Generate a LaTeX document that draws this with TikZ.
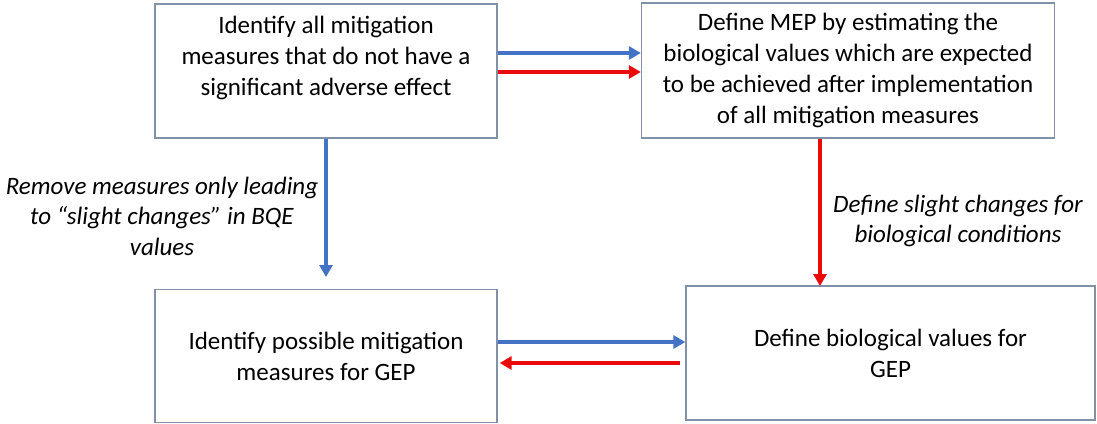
\documentclass[tikz,border=0pt]{standalone}
\usepackage{fontspec}
\setmainfont{Carlito}
\usetikzlibrary{arrows.meta}
\definecolor{boxline}{RGB}{128,145,168}
\definecolor{arrblue}{RGB}{68,114,196}
\definecolor{arrred}{RGB}{235,10,10}
\tikzset{
  box/.style={draw=boxline, line width=1.3bp, fill=white, inner sep=0pt},
  txt/.style={align=center, font=\fontsize{25bp}{31bp}\selectfont},
  lbl/.style={align=center, font=\fontsize{25bp}{30.5bp}\selectfont\itshape},
  blue arrow/.style={draw=arrblue, line width=3.6bp, -{Triangle[length=12bp,width=13bp]}},
  red arrow/.style={draw=arrred, line width=3.6bp, -{Triangle[length=12bp,width=13bp]}}
}
\begin{document}
\begin{tikzpicture}[x=1bp,y=-1bp]
\useasboundingbox (0,0) rectangle (1097,423);
% boxes
\node[box, minimum width=342bp, minimum height=134bp] (b1) at (326,71) {};
\node[txt] (t1) at (326,58) {Identify all mitigation\\measures that do not have a\\significant adverse effect};
\node[box, txt, minimum width=413bp, minimum height=135bp] (b2) at (848,70.5) {Define MEP by estimating the\\biological values which are expected\\to be achieved after implementation\\of all mitigation measures};
\node[box, txt, minimum width=342bp, minimum height=133bp] (b3) at (326,356) {Identify possible mitigation\\measures for GEP};
\node[box, txt, minimum width=409bp, minimum height=134bp] (b4) at (890.5,353) {Define biological values for\\GEP};
% labels
\node[lbl] (l1) at (162,216) {Remove measures only leading\\to “slight changes” in BQE\\values};
\node[lbl] (l2) at (958,221) {Define slight changes for\\biological conditions};
% free ends
\coordinate (v1) at (326,277);
\coordinate (v2) at (820,286);
\coordinate (r3s) at (680,363);
% arrows
\draw[blue arrow] (b1.east |- 0,53) -- (b2.west |- 0,53);
\draw[red arrow] (b1.east |- 0,72) -- (b2.west |- 0,72);
\draw[blue arrow] (b1.south) -- (v1);
\draw[red arrow] (b2.south -| v2) -- (v2);
\draw[blue arrow] (b3.east |- 0,342) -- (b4.west |- 0,342);
\draw[red arrow] (r3s) -- ([xshift=2bp]b3.east |- r3s);
\end{tikzpicture}
\end{document}
